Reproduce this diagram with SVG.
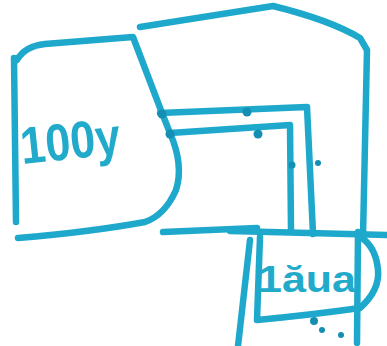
<svg xmlns="http://www.w3.org/2000/svg" width="387" height="346" viewBox="0 0 387 346">
<style>
.s{fill:none;stroke:#1ea9cc;stroke-width:6.5;stroke-linecap:round;stroke-linejoin:round}
.d{fill:#138fb4}
.t{font-family:"Liberation Sans Narrow","Liberation Sans",sans-serif;fill:#22aacb;font-weight:bold}
</style>
<rect width="387" height="346" fill="#fff"/>
<g id="left-node">
<path class="s" d="M14,58 L16,222"/>
<path class="s" d="M17,60 Q25,46 45,44 L133,37 L162,113 L170,133 Q184,165 176,190 Q165,215 145,222 Q90,232 18,238"/>
<text class="t" x="20" y="160" font-size="52" transform="rotate(-6 60 140)" textLength="100" lengthAdjust="spacingAndGlyphs">100y</text>
</g>
<g id="outer-node">
<path class="s" d="M140,27 L273,6 Q330,20 360,38 L367,50 L363,236"/>
</g>
<g id="right-node">
<path class="s" d="M230,231 L387,235"/>
<path class="s" d="M260,237 L257,320 Q310,315 360,308 Q380,290 378,270 Q376,248 362,238"/>
<path class="s" d="M250,240 L238,346"/>
<path class="s" d="M358,232 L357,343"/>
<text class="t" x="258" y="292" font-size="36" textLength="98" lengthAdjust="spacingAndGlyphs">1ăua</text>
</g>
<g id="connectors">
<path class="s" d="M160,113 L307,107 L313,234"/>
<path class="s" d="M170,133 L290,125 L291,231"/>
<path class="s" d="M163,232 L257,228"/>
<circle class="d" cx="162" cy="114" r="4.5"/>
<circle class="d" cx="247" cy="112" r="4.5"/>
<circle class="d" cx="170" cy="134" r="4.5"/>
<circle class="d" cx="258" cy="134" r="4.5"/>
<circle class="d" cx="292" cy="165" r="3.5"/>
<circle class="d" cx="318" cy="163" r="3"/>
<circle class="d" cx="314" cy="321" r="4"/>
<circle class="d" cx="322" cy="330" r="3"/>
<circle class="d" cx="341" cy="335" r="3"/>
</g>
</svg>
